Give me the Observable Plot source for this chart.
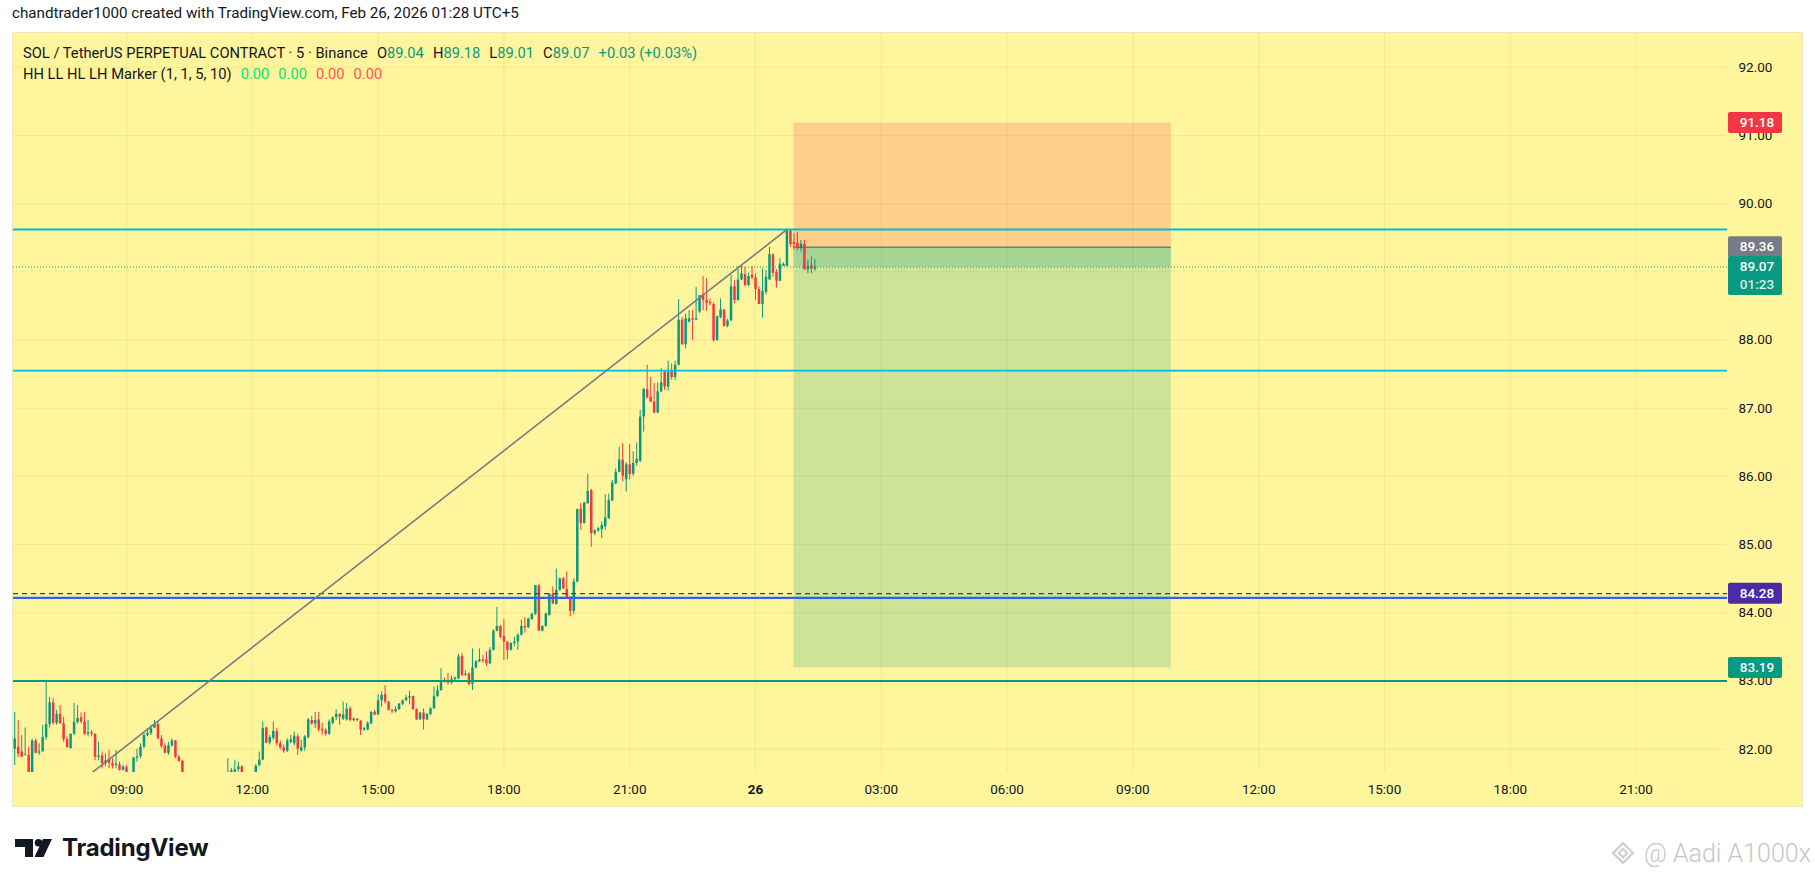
<!DOCTYPE html>
<html>
<head>
<meta charset="utf-8">
<script src="https://cdn.jsdelivr.net/npm/d3@7"></script>
<script src="https://cdn.jsdelivr.net/npm/@observablehq/plot@0.6"></script>
<style>
  html, body { margin: 0; padding: 0; background: #ffffff; }
  body { width: 1815px; height: 882px; position: relative; overflow: hidden; font-family: Roboto, "Noto Sans", sans-serif; color: #131722; }
  #hdr { position: absolute; left: 12px; top: 4px; font-size: 15.2px; white-space: nowrap; }
  #box { position: absolute; left: 13px; top: 33px; width: 1789px; height: 773px; background: #fff59d; box-shadow: 0 0 0 1px #ebe6c0; }
  #legend { position: absolute; left: 23px; top: 43px; font-size: 14.7px; line-height: 21px; white-space: nowrap; }
  #legend .g { margin-left: 9px; }
  .teal { color: #089981; }
  .lg { color: #00e676; }
  .lr { color: #ff5252; }
  #logo { position: absolute; left: 15px; top: 833px; display: flex; align-items: center; }
  #logo span { font-family: Inter, Roboto, sans-serif; font-weight: 700; font-size: 24px; margin-left: 10px; color: #131722; letter-spacing: -0.2px; }
  #wm { position: absolute; left: 1608px; top: 838px; display: flex; align-items: center; color: #c6c6c6; font-size: 25px; font-family: Roboto, sans-serif; font-weight: 300; white-space: nowrap; }
</style>
</head>
<body>
<div id="hdr">chandtrader1000 created with TradingView.com, Feb 26, 2026 01:28 UTC+5</div>
<div id="box"></div>
<div id="legend"></div>
<div id="logo">
  <svg width="37" height="18" viewBox="0 0 37 18"><rect x="0" y="0" width="18" height="8" fill="#131722"/><rect x="10" y="0" width="8" height="18" fill="#131722"/><circle cx="23.5" cy="3.8" r="3.8" fill="#131722"/><polygon points="28,0 37,0 28.5,18 19.5,18" fill="#131722"/></svg>
  <span>TradingView</span>
</div>
<div id="wm">
  <svg width="30" height="30" viewBox="0 0 30 30" style="margin-right:6px"><g fill="none" stroke="#cfcfcf" stroke-width="2.2"><rect x="8" y="8" width="14" height="14" transform="rotate(45 15 15)"/><rect x="12" y="12" width="6" height="6" transform="rotate(45 15 15)"/></g></svg>
  <span>@ Aadi A1000x</span>
</div>
<script>
// ---------- data ----------
const symbolTitle = "SOL / TetherUS PERPETUAL CONTRACT · 5 · Binance";
const indicatorTitle = "HH LL HL LH Marker (1, 1, 5, 10)";
const indicatorValues = ["0.00", "0.00", "0.00", "0.00"];
const countdown = "01:23";
const firstBar = "2026-02-25T06:20:00Z";   // 5-minute bars
const barMinutes = 5;

const open = [
82.00,82.03,81.96,81.91,81.91,81.60,82.12,81.94,81.96,82.17,
82.36,82.68,82.38,82.51,82.37,82.14,82.01,82.22,82.39,82.46,
82.40,82.22,82.24,82.22,81.88,81.90,81.79,81.85,81.79,81.76,
81.77,81.69,81.73,81.62,81.60,81.87,81.89,82.03,82.20,82.23,
82.31,82.36,82.15,82.04,81.94,82.05,82.12,81.88,81.82,81.60,
81.50,81.44,81.52,81.46,81.40,81.48,81.53,81.47,81.55,81.58,
81.60,81.62,81.64,81.66,81.70,81.74,81.62,81.56,81.58,81.64,
81.76,81.84,82.31,82.09,82.16,82.26,82.08,82.02,81.97,82.10,
82.08,82.18,81.97,82.02,82.17,82.42,82.37,82.43,82.29,82.27,
82.22,82.38,82.46,82.51,82.44,82.43,82.59,82.42,82.44,82.41,
82.28,82.28,82.37,82.54,82.50,82.71,82.80,82.69,82.57,82.55,
82.58,82.66,82.71,82.75,82.77,82.58,82.43,82.53,82.43,82.51,
82.59,82.77,82.86,83.00,82.99,82.97,83.02,83.03,83.36,83.08,
83.10,82.95,83.19,83.28,83.31,83.31,83.25,83.45,83.73,83.80,
83.65,83.57,83.45,83.55,83.57,83.67,83.80,83.78,83.90,83.98,
84.39,83.73,83.80,83.96,84.27,84.12,84.33,84.50,84.34,84.23,
84.02,84.45,85.52,85.31,85.60,85.79,85.16,85.20,85.22,85.26,
85.38,85.64,85.89,86.06,86.24,85.95,86.17,86.03,86.19,86.22,
86.87,87.27,87.16,87.09,86.93,87.24,87.53,87.31,87.53,87.45,
87.63,88.29,87.93,88.26,88.31,88.29,88.41,88.67,88.58,88.55,
88.52,87.99,88.33,88.44,88.20,88.28,88.78,88.58,88.88,88.96,
88.80,88.95,88.91,88.74,88.52,88.70,88.88,89.25,88.99,88.86,
89.08,89.08,89.60,89.43,89.42,89.34,89.40,89.03,89.09,89.04];

const high = [
82.54,82.42,82.20,82.31,82.03,82.15,82.15,82.08,82.35,83.00,
82.76,82.74,82.57,82.64,82.47,82.18,82.22,82.67,82.64,82.53,
82.54,82.42,82.27,82.22,82.10,81.96,81.93,81.98,81.86,81.98,
81.81,81.76,81.76,81.64,81.88,82.00,82.08,82.23,82.30,82.35,
82.42,82.40,82.20,82.08,82.10,82.15,82.13,81.91,81.84,81.63,
81.56,81.58,81.60,81.52,81.55,81.60,81.58,81.61,81.63,81.64,
81.65,81.86,81.72,81.84,81.81,81.76,81.64,81.64,81.65,81.77,
81.96,82.40,82.32,82.20,82.40,82.30,82.12,82.06,82.15,82.20,
82.25,82.22,82.13,82.20,82.45,82.48,82.54,82.54,82.38,82.30,
82.43,82.47,82.58,82.52,82.69,82.67,82.62,82.46,82.45,82.42,
82.32,82.40,82.55,82.57,82.80,82.84,82.93,82.70,82.58,82.62,
82.67,82.72,82.79,82.85,82.78,82.59,82.54,82.59,82.52,82.61,
82.91,82.93,83.18,83.04,83.11,83.07,83.06,83.39,83.40,83.15,
83.12,83.47,83.30,83.47,83.37,83.43,83.49,83.75,84.08,83.81,
83.90,83.57,83.56,83.64,83.69,83.89,83.93,83.92,83.99,84.40,
84.42,83.81,84.00,84.28,84.38,84.64,84.51,84.52,84.60,84.23,
84.50,85.52,85.60,85.62,86.03,85.81,85.22,85.25,85.33,85.73,
85.74,85.94,86.11,86.43,86.48,86.20,86.47,86.36,86.49,86.97,
87.28,87.63,87.45,87.36,87.37,87.58,87.55,87.69,87.65,87.69,
88.59,88.33,88.38,88.43,88.43,88.77,88.65,88.93,88.90,88.60,
88.54,88.35,88.60,88.44,88.30,88.95,88.87,89.07,89.09,89.07,
88.98,89.08,88.97,88.78,89.04,89.02,89.36,89.26,89.03,89.19,
89.13,89.62,89.61,89.56,89.58,89.46,89.46,89.17,89.22,89.18];

const low = [
81.76,81.88,81.88,81.90,81.50,81.55,81.93,81.91,81.96,82.13,
82.31,82.35,82.35,82.37,82.10,82.02,82.00,82.20,82.37,82.37,
82.20,82.18,82.18,81.83,81.83,81.71,81.74,81.71,81.71,81.71,
81.68,81.68,81.55,81.50,81.55,81.81,81.86,82.01,82.18,82.20,
82.30,82.14,82.01,81.93,81.91,82.03,81.86,81.81,81.55,81.42,
81.38,81.40,81.41,81.34,81.36,81.44,81.42,81.43,81.50,81.52,
81.52,81.55,81.58,81.60,81.66,81.55,81.50,81.52,81.52,81.60,
81.74,81.83,82.08,82.06,82.13,82.05,81.99,81.94,81.95,82.08,
82.05,81.91,81.96,81.97,82.15,82.35,82.30,82.25,82.20,82.19,
82.20,82.36,82.42,82.35,82.42,82.41,82.40,82.40,82.40,82.20,
82.26,82.27,82.36,82.49,82.50,82.62,82.66,82.56,82.52,82.53,
82.57,82.64,82.70,82.65,82.57,82.42,82.42,82.28,82.42,82.49,
82.59,82.76,82.85,82.97,82.94,82.95,83.00,83.02,83.06,83.07,
82.93,82.86,83.18,83.27,83.26,83.21,83.25,83.44,83.72,83.62,
83.30,83.31,83.44,83.50,83.45,83.66,83.70,83.77,83.89,83.96,
83.73,83.72,83.79,83.95,84.12,84.11,84.32,84.34,84.21,83.94,
83.97,84.44,85.21,85.30,85.59,84.96,85.13,85.18,85.09,85.21,
85.37,85.63,85.88,86.05,85.92,85.77,85.95,86.00,86.15,86.20,
86.65,87.14,87.08,86.92,86.92,87.23,87.26,87.25,87.41,87.41,
87.62,87.92,87.87,88.25,87.99,88.28,88.39,88.43,88.42,88.50,
87.97,87.98,88.31,88.19,88.18,88.27,88.53,88.57,88.87,88.78,
88.78,88.88,88.58,88.52,88.32,88.66,88.88,88.92,88.76,88.86,
89.08,89.07,89.36,89.32,89.31,89.29,89.02,88.97,88.97,89.01];

const close = [
82.15,81.93,81.88,81.92,81.60,82.12,81.94,81.96,82.17,82.36,
82.68,82.38,82.51,82.37,82.14,82.02,82.22,82.39,82.45,82.40,
82.22,82.24,82.22,81.88,81.90,81.79,81.83,81.79,81.75,81.78,
81.69,81.74,81.62,81.58,81.87,81.89,82.03,82.20,82.23,82.30,
82.36,82.15,82.04,81.94,82.05,82.12,81.88,81.82,81.60,81.50,
81.44,81.52,81.46,81.40,81.48,81.53,81.47,81.55,81.58,81.60,
81.62,81.65,81.68,81.70,81.74,81.62,81.56,81.60,81.64,81.75,
81.84,82.30,82.09,82.17,82.26,82.08,82.02,81.97,82.12,82.14,
82.19,82.00,82.02,82.18,82.43,82.37,82.42,82.28,82.27,82.22,
82.40,82.46,82.51,82.47,82.50,82.59,82.42,82.44,82.42,82.28,
82.30,82.38,82.54,82.50,82.71,82.79,82.69,82.57,82.55,82.58,
82.66,82.71,82.75,82.77,82.58,82.43,82.53,82.43,82.51,82.59,
82.77,82.86,83.00,82.99,82.97,83.02,83.04,83.35,83.08,83.10,
82.95,83.19,83.28,83.31,83.29,83.25,83.45,83.73,83.80,83.64,
83.57,83.45,83.55,83.57,83.67,83.80,83.78,83.91,83.98,84.40,
83.73,83.80,83.98,84.27,84.13,84.33,84.50,84.35,84.22,84.02,
84.45,85.51,85.31,85.61,85.78,85.16,85.20,85.23,85.28,85.39,
85.65,85.90,86.06,86.24,86.00,86.17,86.03,86.19,86.25,86.87,
87.28,87.15,87.09,86.93,87.24,87.37,87.31,87.53,87.45,87.63,
88.29,87.93,88.31,88.31,88.29,88.31,88.65,88.58,88.54,88.53,
87.99,88.34,88.44,88.20,88.28,88.78,88.58,88.88,88.97,88.80,
88.93,88.91,88.74,88.52,88.71,88.92,89.25,88.98,88.86,89.11,
89.11,89.61,89.40,89.40,89.34,89.41,89.03,89.08,89.04,89.07];

// horizontal drawings
const cyanLevels = [89.62, 87.55];
const blueLevels = [84.22];
const dashedLevels = [84.28];
const greenLevels = [83.00];
// trend line (two anchor points)
const trendTimes = ["2026-02-25T08:10:00Z", "2026-02-26T00:45:00Z"];
const trendPrices = [81.65, 89.62];
// short position tool
const positionTimes = ["2026-02-26T00:55:00Z", "2026-02-26T09:55:00Z"];
const positionEntry = 89.36, positionStop = 91.18, positionTarget = 83.19;
// axes
const yTicks = [82, 83, 84, 85, 86, 87, 88, 89, 90, 91, 92];
const xTickTimes = ["2026-02-25T09:00:00Z","2026-02-25T12:00:00Z","2026-02-25T15:00:00Z","2026-02-25T18:00:00Z","2026-02-25T21:00:00Z",
  "2026-02-26T00:00:00Z","2026-02-26T03:00:00Z","2026-02-26T06:00:00Z","2026-02-26T09:00:00Z","2026-02-26T12:00:00Z",
  "2026-02-26T15:00:00Z","2026-02-26T18:00:00Z","2026-02-26T21:00:00Z"];
const xDomain = ["2026-02-25T06:18:18Z", "2026-02-26T23:10:48Z"];
const yDomain = [81.658, 92.494];

// ---------- build ----------
const UP = "#089981", DOWN = "#f23645";
const t0 = new Date(firstBar).getTime();
const candles = open.map((o, i) => ({
  t: new Date(t0 + i * barMinutes * 60000), open: o, high: high[i], low: low[i], close: close[i]
}));
const col = d => d.close >= d.open ? UP : DOWN;
const last = candles[candles.length - 1];
const prev = candles[candles.length - 2];
const change = last.close - prev.close;

const pos = {start: new Date(positionTimes[0]), end: new Date(positionTimes[1]),
  entry: positionEntry, stop: positionStop, target: positionTarget, current: last.close};
const trend = trendTimes.map((t, i) => ({t: new Date(t), p: trendPrices[i]}));
const xTicks = xTickTimes.map(s => new Date(s));

// legend
const f2 = v => v.toFixed(2);
document.getElementById("legend").innerHTML =
  `<div>${symbolTitle}<span class="g">O<span class="teal">${f2(last.open)}</span></span>` +
  `<span class="g">H<span class="teal">${f2(last.high)}</span></span>` +
  `<span class="g">L<span class="teal">${f2(last.low)}</span></span>` +
  `<span class="g">C<span class="teal">${f2(last.close)}</span></span>` +
  `<span class="g teal">${change >= 0 ? "+" : ""}${f2(change)} (${change >= 0 ? "+" : ""}${f2(change / prev.close * 100)}%)</span></div>` +
  `<div>${indicatorTitle}` + indicatorValues.map((v, i) => `<span class="g ${i < 2 ? "lg" : "lr"}">${v}</span>`).join("") + `</div>`;

const fmtTime = d => (d.getUTCHours() === 0 && d.getUTCMinutes() === 0) ? String(d.getUTCDate()) : d3.utcFormat("%H:%M")(d);
const gridColor = "#7a6a00";

// the live-price tag (two lines) hides the scale labels beneath it, as on the original
const hiddenUnderLastTag = v => v <= last.close + 0.03 && v >= last.close - 0.45;
const axisTicks = yTicks.filter(v => !hiddenUnderLastTag(v));

const chart = Plot.plot({
  width: 1789,
  height: 773,
  marginLeft: 0,
  marginRight: 75,
  marginTop: 0,
  marginBottom: 34,
  style: {background: "transparent", fontFamily: "Roboto, sans-serif", fontSize: "13.5px", color: "#131722", overflow: "visible"},
  x: {type: "utc", domain: xDomain.map(s => new Date(s))},
  y: {domain: yDomain},
  marks: [
    Plot.gridY(yTicks, {stroke: gridColor, strokeOpacity: 0.09, strokeWidth: 1}),
    Plot.gridX(xTicks, {stroke: gridColor, strokeOpacity: 0.09, strokeWidth: 1}),
    // position tool
    Plot.rect([pos], {x1: "start", x2: "end", y1: "entry", y2: "stop", fill: DOWN, fillOpacity: 0.2}),
    Plot.rect([pos], {x1: "start", x2: "end", y1: "entry", y2: "target", fill: UP, fillOpacity: 0.2}),
    Plot.rect([pos], {x1: "start", x2: "end", y1: "entry", y2: "current", fill: UP, fillOpacity: 0.2}),
    Plot.ruleY([pos], {x1: "start", x2: "end", y: "entry", stroke: "#787b86", strokeWidth: 1.3}),
    // candles
    Plot.ruleX(candles, {x: "t", y1: "low", y2: "high", stroke: col, strokeWidth: 1, clip: true}),
    Plot.ruleX(candles, {x: "t", y1: "open", y2: "close", stroke: col, strokeWidth: 2.5, clip: true}),
    // drawings
    Plot.ruleY(cyanLevels, {stroke: "#00bcd4", strokeWidth: 1.8}),
    Plot.ruleY(greenLevels, {stroke: UP, strokeWidth: 2}),
    Plot.ruleY(dashedLevels, {stroke: "#4b2ca6", strokeWidth: 1.2, strokeDasharray: "5,4"}),
    Plot.ruleY(blueLevels, {stroke: "#2962ff", strokeWidth: 2.3}),
    Plot.line(trend, {x: "t", y: "p", stroke: "#787b86", strokeWidth: 1.6, clip: true}),
    Plot.ruleY([last], {y: "close", stroke: UP, strokeWidth: 1.2, strokeDasharray: "1,2"}),
    // axes
    Plot.axisY(axisTicks, {anchor: "right", tickSize: 0, tickPadding: 11, tickFormat: d => d.toFixed(2), fill: "#131722"}),
    Plot.axisX(xTicks, {anchor: "bottom", tickSize: 0, tickPadding: 12, tickFormat: fmtTime, fill: "#131722"})
  ]
});
document.getElementById("box").appendChild(chart);

// make the day label bold
d3.select(chart).selectAll("text").filter(function () { return this.textContent === "26"; }).attr("font-weight", "bold");

// price tags on the price scale
const ys = chart.scale("y");
const yS = d3.scaleLinear(ys.domain, ys.range);
const tags = [
  {v: pos.stop, fill: DOWN},
  {v: pos.entry, fill: "#787b86"},
  {v: last.close, fill: UP, sub: countdown},
  {v: dashedLevels[0], fill: "#4b2ca6"},
  {v: pos.target, fill: UP}
];
const g = d3.select(chart).append("g").attr("font-family", "Roboto, sans-serif").attr("font-size", 13.5);
const tagX = 1789 - 75 + 1, tagW = 54;
for (const tg of tags) {
  const y = yS(tg.v);
  const h = tg.sub ? 39 : 21;
  g.append("rect").attr("x", tagX).attr("y", y - 10.5).attr("width", tagW).attr("height", h).attr("rx", 2).attr("fill", tg.fill);
  g.append("text").attr("x", tagX + 29).attr("y", y).attr("dy", "0.35em").attr("text-anchor", "middle")
    .attr("fill", "#ffffff").attr("font-weight", 500).text(f2(tg.v));
  if (tg.sub) {
    g.append("text").attr("x", tagX + 29).attr("y", y + 18).attr("dy", "0.35em").attr("text-anchor", "middle")
      .attr("fill", "#ffffff").attr("fill-opacity", 0.85).attr("font-weight", 500).text(tg.sub);
  }
}
</script>
</body>
</html>
